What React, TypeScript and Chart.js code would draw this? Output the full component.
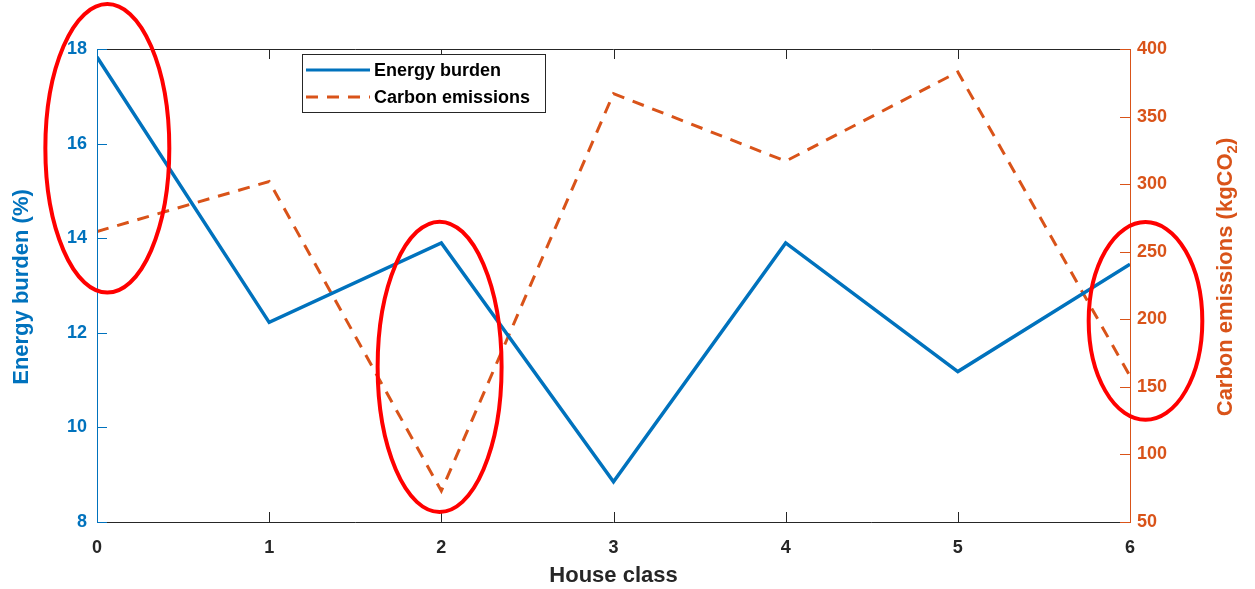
import React, { useEffect, useRef } from "react";
import { Chart, registerables } from "chart.js";

Chart.register(...registerables);

const houseClasses = [0, 1, 2, 3, 4, 5, 6];
const energyBurden = [17.83, 12.22, 13.9, 8.85, 13.9, 11.18, 13.45];
const carbonEmissions = [265, 302, 73, 367, 317, 383, 158];
const leftTicks = [8, 10, 12, 14, 16, 18];
const rightTicks = [50, 100, 150, 200, 250, 300, 350, 400];

// highlighted regions (data units: x center, y center on left axis, x radius, y radius)
const highlightX = [0.06, 1.99, 6.09];
const highlightY = [15.9, 11.28, 12.25];
const highlightRX = [0.36, 0.36, 0.33];
const highlightRY = [3.05, 3.07, 2.09];

const BLUE = "#0072BD";
const ORANGE = "#D95319";
const DARK = "#262626";
const FONT = "'Liberation Sans', Arial, sans-serif";

const decorPlugin = {
  id: "decor",
  afterDraw(chart: any) {
    const { ctx, chartArea } = chart;
    const xs = chart.scales.x;
    const yl = chart.scales.y;
    const yr = chart.scales.y1;
    const { left, right, top, bottom } = chartArea;
    ctx.save();
    // box lines
    ctx.lineWidth = 1;
    ctx.strokeStyle = DARK;
    ctx.beginPath();
    ctx.moveTo(left, top + 0.5);
    ctx.lineTo(right, top + 0.5);
    ctx.moveTo(left, bottom + 0.5);
    ctx.lineTo(right, bottom + 0.5);
    ctx.stroke();
    // x inward ticks (bottom & top)
    const tl = 10;
    ctx.beginPath();
    houseClasses.forEach((v) => {
      const px = Math.round(xs.getPixelForValue(v)) + 0.5;
      ctx.moveTo(px, bottom);
      ctx.lineTo(px, bottom - tl);
      ctx.moveTo(px, top);
      ctx.lineTo(px, top + tl);
    });
    ctx.stroke();
    // left axis
    ctx.strokeStyle = BLUE;
    ctx.beginPath();
    ctx.moveTo(left + 0.5, top);
    ctx.lineTo(left + 0.5, bottom + 1);
    leftTicks.forEach((v) => {
      const py = Math.round(yl.getPixelForValue(v)) + 0.5;
      ctx.moveTo(left, py);
      ctx.lineTo(left + tl, py);
    });
    ctx.stroke();
    // right axis
    ctx.strokeStyle = ORANGE;
    ctx.beginPath();
    ctx.moveTo(right + 0.5, top);
    ctx.lineTo(right + 0.5, bottom + 1);
    rightTicks.forEach((v) => {
      const py = Math.round(yr.getPixelForValue(v)) + 0.5;
      ctx.moveTo(right, py);
      ctx.lineTo(right - tl, py);
    });
    ctx.stroke();

    // axis titles
    ctx.textBaseline = "middle";
    ctx.textAlign = "center";
    ctx.fillStyle = DARK;
    ctx.font = "bold 22px " + FONT;
    ctx.fillText("House class", (left + right) / 2, 576);

    ctx.save();
    ctx.translate(22, 287);
    ctx.rotate(-Math.PI / 2);
    ctx.fillStyle = BLUE;
    ctx.fillText("Energy burden (%)", 0, 0);
    ctx.restore();

    ctx.save();
    ctx.translate(1226, 277);
    ctx.rotate(-Math.PI / 2);
    ctx.fillStyle = ORANGE;
    const p1 = "Carbon emissions (kgCO";
    const p2 = "2";
    const p3 = ")";
    ctx.font = "bold 22px " + FONT;
    const w1 = ctx.measureText(p1).width;
    const w3 = ctx.measureText(p3).width;
    ctx.font = "bold 15px " + FONT;
    const w2 = ctx.measureText(p2).width;
    const total = w1 + w2 + w3;
    let x0 = -total / 2;
    ctx.textAlign = "left";
    ctx.font = "bold 22px " + FONT;
    ctx.fillText(p1, x0, 0);
    ctx.font = "bold 15px " + FONT;
    ctx.fillText(p2, x0 + w1, 7);
    ctx.font = "bold 22px " + FONT;
    ctx.fillText(p3, x0 + w1 + w2, 0);
    ctx.restore();

    // legend
    const lx = 302, ly = 54, lw = 243, lh = 58;
    ctx.fillStyle = "#ffffff";
    ctx.fillRect(lx, ly, lw, lh);
    ctx.strokeStyle = DARK;
    ctx.lineWidth = 1;
    ctx.strokeRect(lx + 0.5, ly + 0.5, lw, lh);
    chart.data.datasets.forEach((ds: any, i: number) => {
      const yy = ly + 16 + i * 27;
      ctx.strokeStyle = ds.borderColor;
      ctx.lineWidth = 3;
      ctx.setLineDash(ds.borderDash || []);
      ctx.beginPath();
      ctx.moveTo(lx + 4, yy);
      ctx.lineTo(lx + 68, yy);
      ctx.stroke();
      ctx.setLineDash([]);
      ctx.fillStyle = "#000000";
      ctx.font = "bold 18px " + FONT;
      ctx.textAlign = "left";
      ctx.textBaseline = "middle";
      ctx.fillText(ds.label, lx + 72, yy + 1);
    });

    // red highlight ellipses
    ctx.strokeStyle = "#FF0000";
    ctx.lineWidth = 4;
    highlightX.forEach((cx, i) => {
      const px = xs.getPixelForValue(cx);
      const py = yl.getPixelForValue(highlightY[i]);
      const rx = Math.abs(xs.getPixelForValue(cx + highlightRX[i]) - px);
      const ry = Math.abs(yl.getPixelForValue(highlightY[i] + highlightRY[i]) - py);
      ctx.beginPath();
      ctx.ellipse(px, py, rx, ry, 0, 0, Math.PI * 2);
      ctx.stroke();
    });
    ctx.restore();
  },
};

export default function App() {
  const ref = useRef<HTMLCanvasElement | null>(null);
  useEffect(() => {
    if (!ref.current) return;
    const chart = new Chart(ref.current, {
      type: "line",
      data: {
        datasets: [
          {
            label: "Energy burden",
            data: houseClasses.map((x, i) => ({ x, y: energyBurden[i] })),
            borderColor: BLUE,
            backgroundColor: BLUE,
            borderWidth: 3.5,
            pointRadius: 0,
            tension: 0,
            yAxisID: "y",
          },
          {
            label: "Carbon emissions",
            data: houseClasses.map((x, i) => ({ x, y: carbonEmissions[i] })),
            borderColor: ORANGE,
            backgroundColor: ORANGE,
            borderWidth: 3,
            borderDash: [12, 9],
            pointRadius: 0,
            tension: 0,
            yAxisID: "y1",
          },
        ],
      },
      options: {
        responsive: false,
        animation: false,
        layout: { padding: { top: 49, left: 0, right: 0, bottom: 0 } },
        plugins: { legend: { display: false }, tooltip: { enabled: false } },
        scales: {
          x: {
            type: "linear",
            min: 0,
            max: 6,
            afterBuildTicks: (s: any) => {
              s.ticks = houseClasses.map((v) => ({ value: v }));
            },
            ticks: {
              color: DARK,
              font: { family: FONT, size: 18, weight: "bold" },
              padding: 15,
              maxRotation: 0,
            },
            grid: { display: false, drawTicks: false },
            border: { display: false },
            afterFit: (s: any) => {
              s.height = 67;
            },
          },
          y: {
            position: "left",
            min: 8,
            max: 18,
            afterBuildTicks: (s: any) => {
              s.ticks = leftTicks.map((v) => ({ value: v }));
            },
            ticks: {
              color: BLUE,
              font: { family: FONT, size: 18, weight: "bold" },
              padding: 10,
            },
            grid: { display: false, drawTicks: false },
            border: { display: false },
            afterFit: (s: any) => {
              s.width = 97;
            },
          },
          y1: {
            position: "right",
            min: 50,
            max: 400,
            afterBuildTicks: (s: any) => {
              s.ticks = rightTicks.map((v) => ({ value: v }));
            },
            ticks: {
              color: ORANGE,
              font: { family: FONT, size: 18, weight: "bold" },
              padding: 7,
            },
            grid: { display: false, drawTicks: false },
            border: { display: false },
            afterFit: (s: any) => {
              s.width = 125;
            },
          },
        },
      },
      plugins: [decorPlugin],
    });
    return () => chart.destroy();
  }, []);
  return (
    <div style={{ position: "fixed", left: 0, top: 0, width: 1255, height: 589, background: "#fff" }}>
      <canvas ref={ref} width={1255} height={589} style={{ display: "block" }} />
    </div>
  );
}
